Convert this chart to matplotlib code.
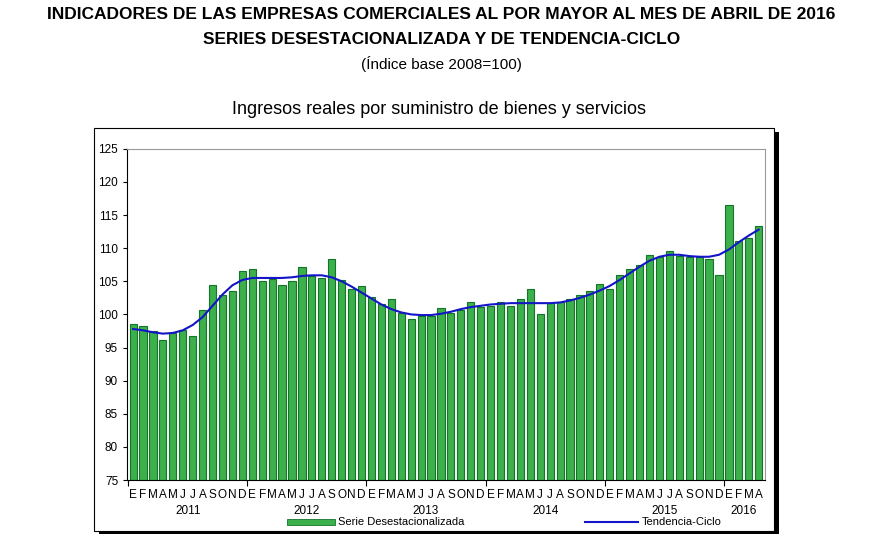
import matplotlib
matplotlib.use("Agg")
import matplotlib.pyplot as plt
from matplotlib.patches import Rectangle
import numpy as np

years = ["2011", "2012", "2013", "2014", "2015", "2016"]
month_letters = ["E", "F", "M", "A", "M", "J", "J", "A", "S", "O", "N", "D"]

serie = [98.5, 98.3, 97.5, 96.1, 97.2, 97.6, 96.7, 100.6, 104.5, 102.9, 103.5, 106.5,
         106.9, 105.0, 105.3, 104.4, 105.1, 107.2, 105.8, 105.5, 108.3, 105.2, 103.9, 104.3,
         102.7, 101.5, 102.3, 100.2, 99.3, 99.8, 99.8, 101.0, 100.2, 100.6, 101.9, 101.1,
         101.2, 101.9, 101.3, 102.4, 103.9, 100.1, 101.7, 101.9, 102.3, 102.9, 103.5, 104.6,
         103.8, 106.0, 106.9, 107.5, 109.0, 108.7, 109.6, 108.8, 108.7, 108.7, 108.3, 106.0,
         116.5, 111.1, 111.6, 113.4]
tendencia = [97.8, 97.6, 97.3, 97.1, 97.2, 97.6, 98.4, 99.6, 101.3, 103.0, 104.4, 105.2,
             105.5, 105.5, 105.5, 105.5, 105.6, 105.8, 105.9, 105.9, 105.6, 105.0, 104.2, 103.3,
             102.4, 101.5, 100.8, 100.3, 100.0, 99.9, 99.9, 100.1, 100.4, 100.8, 101.1, 101.3,
             101.5, 101.6, 101.7, 101.7, 101.7, 101.7, 101.7, 101.8, 102.1, 102.5, 103.0, 103.6,
             104.3, 105.2, 106.2, 107.2, 108.1, 108.7, 109.0, 109.0, 108.8, 108.7, 108.7, 109.0,
             109.8, 110.9, 111.9, 112.8]

fig = plt.figure(figsize=(8.83, 5.55), dpi=100)
plt.rcParams["font.family"] = ["Liberation Sans", "DejaVu Sans"]

fig.text(0.5, 0.965, "INDICADORES DE LAS EMPRESAS COMERCIALES AL POR MAYOR AL MES DE ABRIL DE 2016",
         ha="center", fontsize=12.5, fontweight="bold")
fig.text(0.5, 0.92, "SERIES DESESTACIONALIZADA Y DE TENDENCIA-CICLO",
         ha="center", fontsize=12.5, fontweight="bold")
fig.text(0.5, 0.875, "(Índice base 2008=100)", ha="center", fontsize=11)

# marco exterior con sombra
fig.patches.append(Rectangle((0.112, 0.037), 0.770, 0.725, transform=fig.transFigure,
                             facecolor="black", edgecolor="none", zorder=0))
fig.patches.append(Rectangle((0.107, 0.044), 0.770, 0.725, transform=fig.transFigure,
                             facecolor="white", edgecolor="black", lw=0.8, zorder=0.5))
fig.text(0.497, 0.795, "Ingresos reales por suministro de bienes y servicios",
         ha="center", fontsize=13)

ax = fig.add_axes([0.144, 0.135, 0.722, 0.597])
ax.set_zorder(2)
x = np.arange(len(serie))
ax.bar(x, np.array(serie) - 75, bottom=75, width=0.72, color="#3cb04a",
       edgecolor="#13752a", linewidth=0.8)
ax.plot(x, tendencia, color="#1414c8", lw=1.5)
ax.set_ylim(75, 125)
ax.set_xlim(-0.6, len(serie) - 0.4)
ax.set_yticks(range(75, 126, 5))
ax.tick_params(axis="y", labelsize=8.5, length=3)
ax.set_xticks(np.arange(-0.5, len(serie), 12))
ax.set_xticklabels([])
ax.tick_params(axis="x", length=4)
for s in ["top", "right"]:
    ax.spines[s].set_color("#999999")

for i in range(len(serie)):
    ax.text(i, 73.6, month_letters[i % 12], ha="center", va="top", fontsize=8.5)
for j, y in enumerate(years):
    c = j * 12 + 5.5 if y != "2016" else 61.5
    ax.text(c, 71.2, y, ha="center", va="top", fontsize=8.5)

# leyenda
ax.add_patch(Rectangle((15.5, 68.2), 4.8, 0.9, facecolor="#3cb04a", edgecolor="#13752a",
                       lw=0.6, clip_on=False))
ax.text(20.6, 68.65, "Serie Desestacionalizada", va="center", fontsize=8)
ax.plot([45.5, 50.8], [68.65, 68.65], color="#1414c8", lw=1.5, clip_on=False)
ax.text(51.2, 68.65, "Tendencia-Ciclo", va="center", fontsize=8)

fig.savefig("out.png", dpi=100)
